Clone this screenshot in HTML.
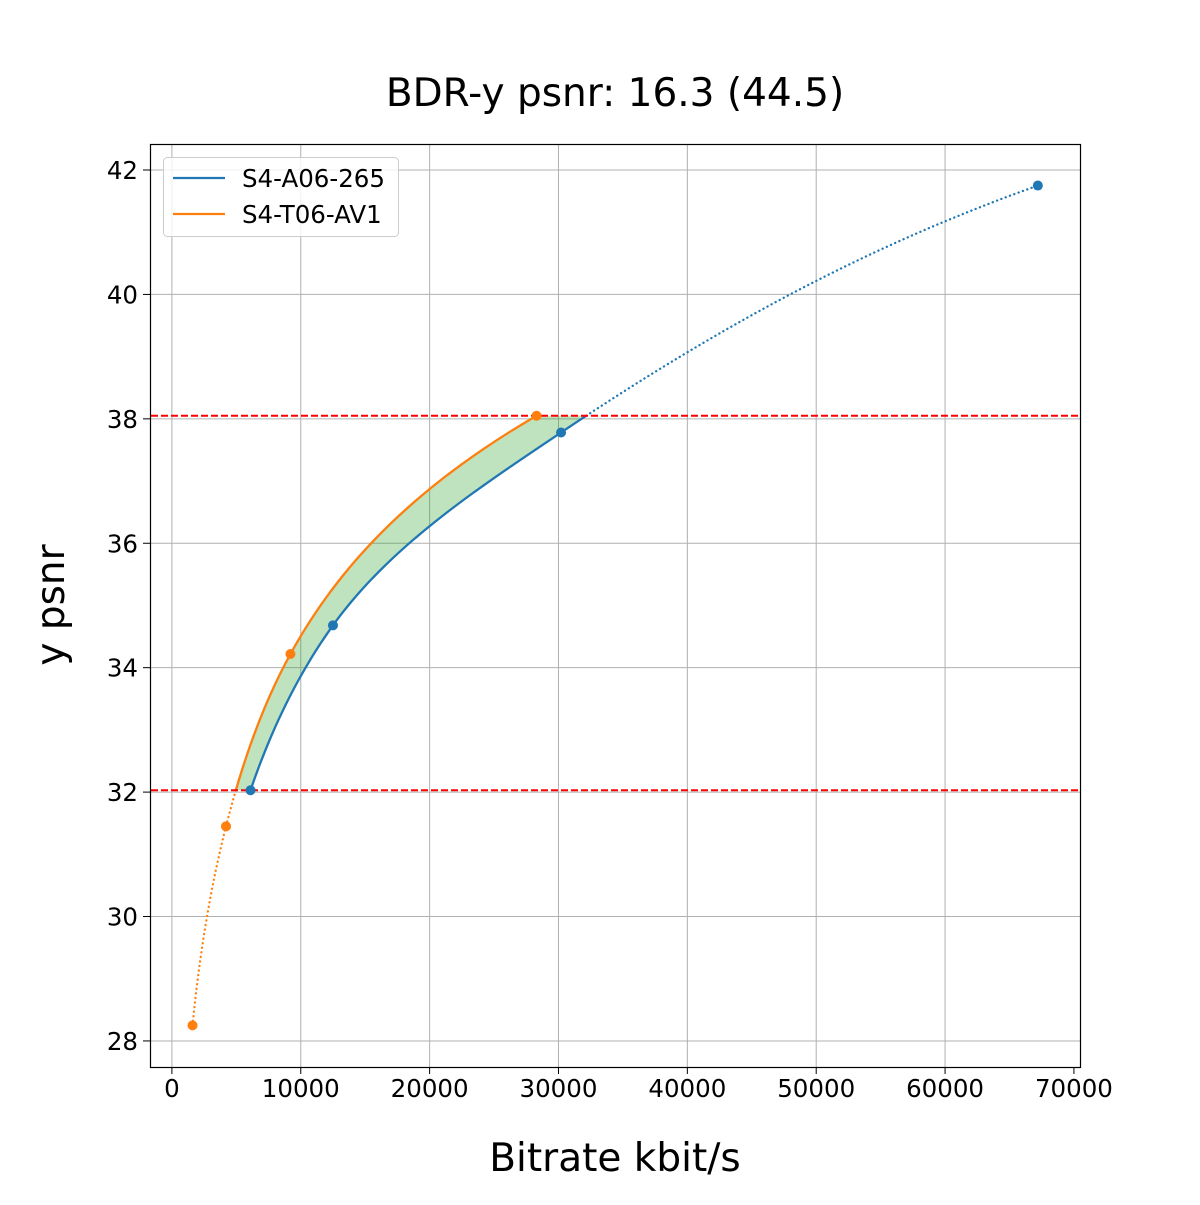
<!DOCTYPE html>
<html><head><meta charset="utf-8"><style>
body{margin:0;background:#fff}
svg text{font-family:"DejaVu Sans","Liberation Sans",sans-serif}
</style></head><body>
<svg id="s" width="1200" height="1200" xmlns="http://www.w3.org/2000/svg">
<rect width="1200" height="1200" fill="#fff"/>
<g id="grid" stroke="#b0b0b0" stroke-width="1"></g>
<g id="plot"></g>
<rect x="150.5" y="144.5" width="930" height="923" fill="none" stroke="#000" stroke-width="1.2"/>
<g id="ticks" font-size="24.5" fill="#000"></g>
<text x="615" y="106" font-size="39" text-anchor="middle">BDR-y psnr: 16.3 (44.5)</text>
<text x="615" y="1171" font-size="39" text-anchor="middle">Bitrate kbit/s</text>
<text transform="translate(64,605) rotate(-90)" font-size="39" text-anchor="middle">y psnr</text>
<rect x="163.5" y="157.5" width="235" height="79" rx="4" fill="#fff" fill-opacity="0.8" stroke="#ccc"/>
<line x1="173" y1="178" x2="225" y2="178" stroke="#1f77b4" stroke-width="2.2"/>
<line x1="173" y1="214" x2="225" y2="214" stroke="#ff7f0e" stroke-width="2.2"/>
<text x="242" y="187" font-size="24.5">S4-A06-265</text>
<text x="242" y="223" font-size="24.5">S4-T06-AV1</text>
</svg>
<script>
const X=r=>171.9+r*0.012886, Y=v=>170+(42-v)*62.21;
const g=document.getElementById('grid'),t=document.getElementById('ticks'),p=document.getElementById('plot');
const NS='http://www.w3.org/2000/svg';
function el(par,tag,a,txt){const e=document.createElementNS(NS,tag);for(const k in a)e.setAttribute(k,a[k]);if(txt)e.textContent=txt;par.appendChild(e);return e;}
for(let r=0;r<=70000;r+=10000){const x=X(r);if(r<70000)el(g,'line',{x1:x,x2:x,y1:145,y2:1067});
 el(t,'line',{x1:x,x2:x,y1:1067,y2:1074,stroke:'#000'});el(t,'text',{x:x,y:1097,'text-anchor':'middle'},String(r));}
for(let v=28;v<=42;v+=2){const y=Y(v);el(g,'line',{x1:151,x2:1080,y1:y,y2:y});
 el(t,'line',{x1:143,x2:150,y1:y,y2:y,stroke:'#000'});el(t,'text',{x:138,y:y+9,'text-anchor':'end'},String(v));}
function pchip(xs,ys){const n=xs.length,h=[],d=[],m=[];for(let i=0;i<n-1;i++){h[i]=xs[i+1]-xs[i];d[i]=(ys[i+1]-ys[i])/h[i];}
 m[0]=d[0];m[n-1]=d[n-2];for(let i=1;i<n-1;i++){if(d[i-1]*d[i]<=0)m[i]=0;else{const w1=2*h[i]+h[i-1],w2=h[i]+2*h[i-1];m[i]=(w1+w2)/(w1/d[i-1]+w2/d[i]);}}
 return x=>{let i=0;while(i<n-2&&x>xs[i+1])i++;const tt=(x-xs[i])/h[i],t2=tt*tt,t3=t2*tt;
 return (2*t3-3*t2+1)*ys[i]+(t3-2*t2+tt)*h[i]*m[i]+(-2*t3+3*t2)*ys[i+1]+(t3-t2)*h[i]*m[i+1];};}
const B={r:[6100,12500,30200,67200],q:[32.03,34.68,37.78,41.75]};
const O={r:[1600,4200,9200,28300],q:[28.25,31.45,34.22,38.05]};
const fb=pchip(B.q,B.r.map(Math.log)),fo=pchip(O.q,O.r.map(Math.log));
function pts(f,a,b){const o=[];for(let i=0;i<=200;i++){const q=a+(b-a)*i/200;o.push([X(Math.exp(f(q))),Y(q)]);}return o;}
const lo=32.03,hi=38.05;
const bs=pts(fb,lo,hi),os=pts(fo,lo,hi);
const poly=bs.concat(os.slice().reverse()).map(a=>a.join(',')).join(' ');
el(p,'polygon',{points:poly,fill:'#2ca02c','fill-opacity':0.3,stroke:'none'});
const pl=(a,c,dash)=>el(p,'polyline',{points:a.map(x=>x.join(',')).join(' '),fill:'none',stroke:c,'stroke-width':2.3,'stroke-dasharray':dash||'none','stroke-linecap':dash?'round':'butt'});
pl(bs,'#1f77b4');pl(pts(fb,hi,41.75),'#1f77b4','0.1 4.5');
pl(os,'#ff7f0e');pl(pts(fo,28.25,lo),'#ff7f0e','0.1 4.5');
el(p,'line',{x1:151,x2:1080,y1:Y(38.05),y2:Y(38.05),stroke:'#f00','stroke-width':2,'stroke-dasharray':'7,3'});
el(p,'line',{x1:151,x2:1080,y1:Y(32.03),y2:Y(32.03),stroke:'#f00','stroke-width':2,'stroke-dasharray':'7,3'});
B.r.forEach((r,i)=>el(p,'circle',{cx:X(r),cy:Y(B.q[i]),r:5,fill:'#1f77b4'}));
O.r.forEach((r,i)=>el(p,'circle',{cx:X(r),cy:Y(O.q[i]),r:5,fill:'#ff7f0e'}));
</script>
</body></html>
